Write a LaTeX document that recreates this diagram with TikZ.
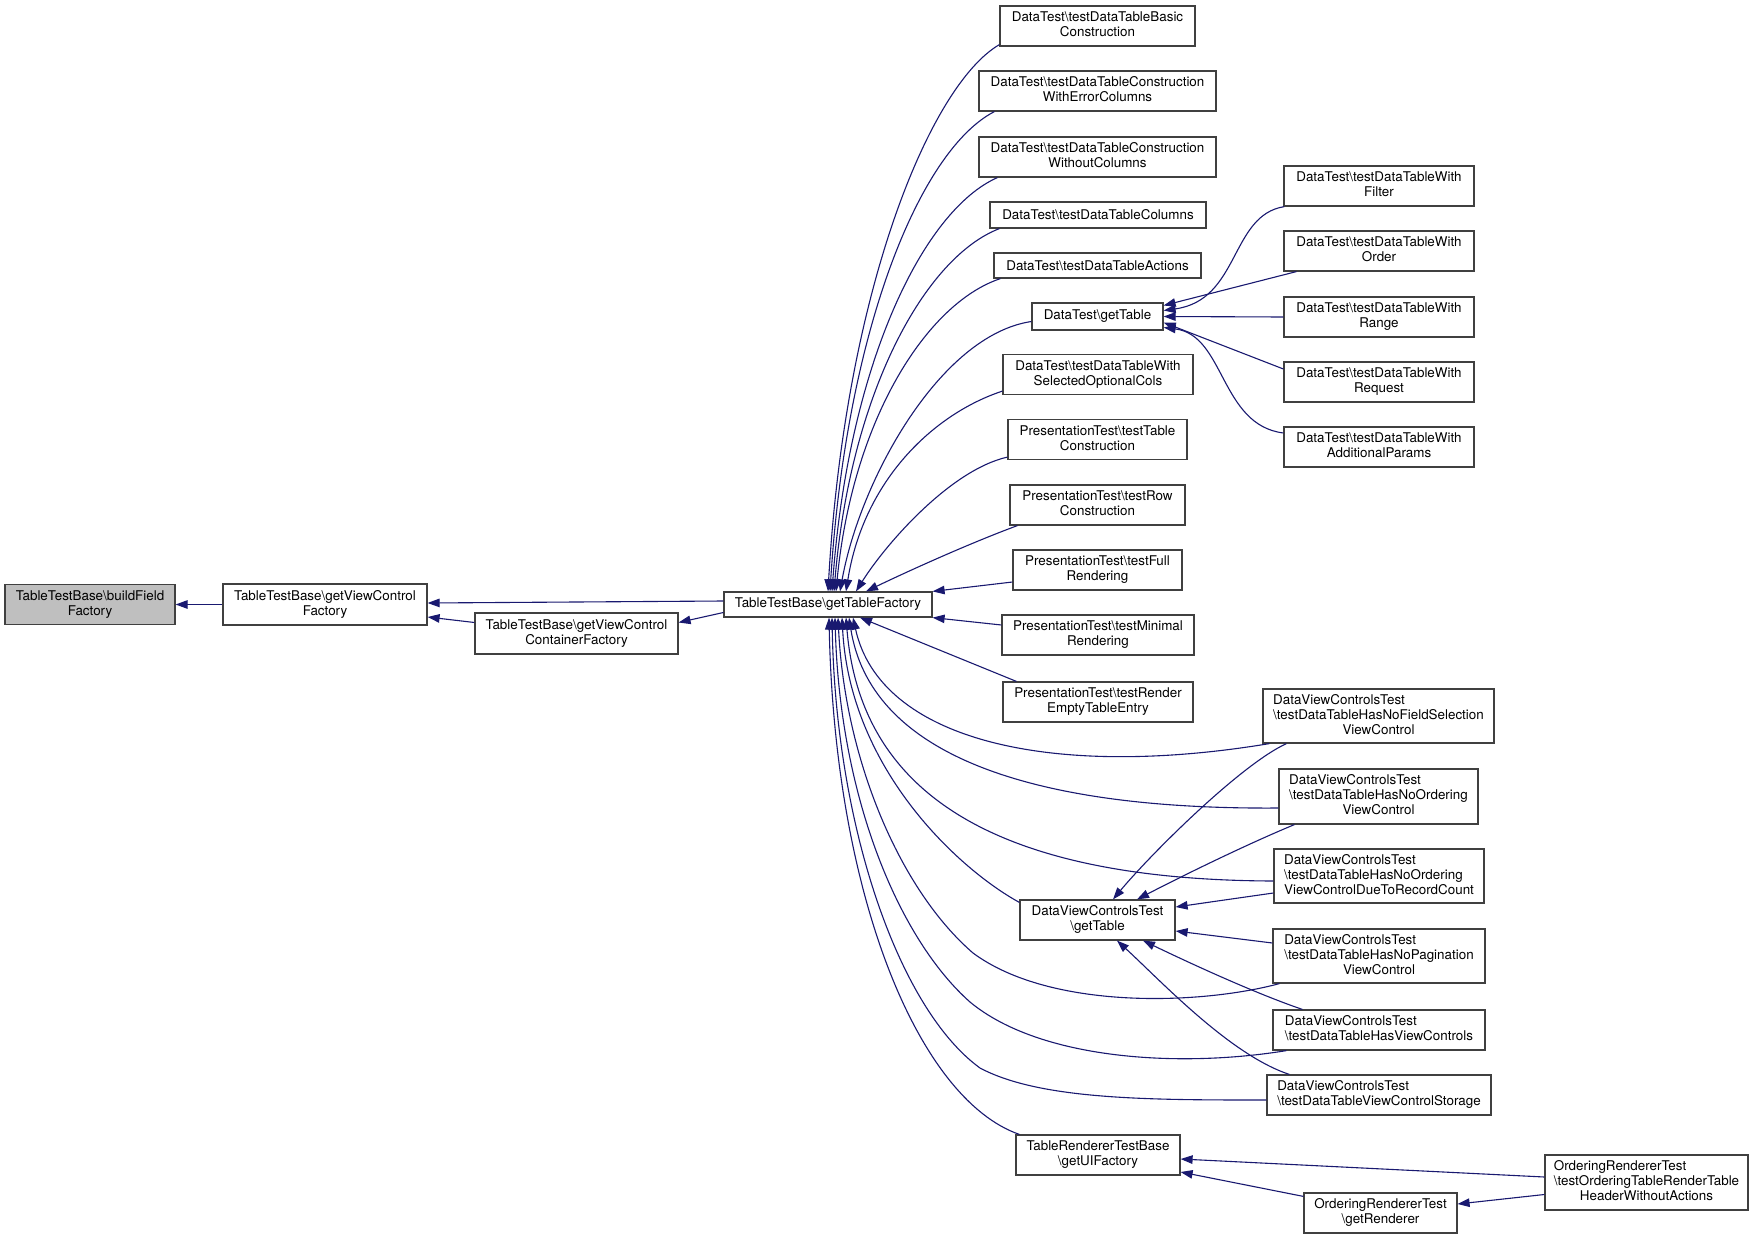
\documentclass[tikz,border=0pt]{standalone}
\usepackage{fontspec}
\setmainfont{TeX Gyre Heros}
\usetikzlibrary{arrows.meta,calc}
\definecolor{edgec}{RGB}{25,25,112}
\definecolor{boxc}{RGB}{64,64,64}
\definecolor{focusc}{RGB}{191,191,191}
\newcommand{\bsl}{\textbackslash}
\newcommand{\lbl}[2]{\begin{tabular}{@{}l@{}}#1\\\multicolumn{1}{@{}c@{}}{#2}\end{tabular}}
\begin{document}
\begin{tikzpicture}[x=1pt,y=-1pt,
  box/.style={draw=boxc, line width=1.2pt, fill=white, inner sep=0pt, align=center,
    font=\fontsize{13.4}{15}\selectfont},
  edge/.style={draw=edgec, line width=1.1pt, {Triangle[length=12pt,width=8.5pt]}-}]
\fill[white] (0,0) rectangle (1751,1239);
\useasboundingbox (0,0) rectangle (1751,1239);

% left chain
\node[box, fill=focusc, minimum width=170pt, minimum height=40pt] (bf) at (90,604.5) {\lbl{TableTestBase\bsl buildField}{Factory}};
\node[box, minimum width=204pt, minimum height=41pt] (gvcf) at (325,604.5) {\lbl{TableTestBase\bsl getViewControl}{Factory}};
\node[box, minimum width=203pt, minimum height=41pt] (gvccf) at (576.5,633.5) {\lbl{TableTestBase\bsl getViewControl}{ContainerFactory}};
\node[box, minimum width=208pt, minimum height=25pt] (gtf) at (828,604.5) {TableTestBase\bsl getTableFactory};

% middle column
\node[box, minimum width=195pt, minimum height=40pt] (basic) at (1097.5,26) {\lbl{DataTest\bsl testDataTableBasic}{Construction}};
\node[box, minimum width=237pt, minimum height=40pt] (err) at (1097.5,91) {\lbl{DataTest\bsl testDataTableConstruction}{WithErrorColumns}};
\node[box, minimum width=237pt, minimum height=40pt] (without) at (1097.5,157) {\lbl{DataTest\bsl testDataTableConstruction}{WithoutColumns}};
\node[box, minimum width=216pt, minimum height=26pt] (cols) at (1098,215) {DataTest\bsl testDataTableColumns};
\node[box, minimum width=207pt, minimum height=25pt] (actions) at (1097.5,265.5) {DataTest\bsl testDataTableActions};
\node[box, minimum width=131pt, minimum height=27pt] (dtgt) at (1097.5,316.5) {DataTest\bsl getTable};
\node[box, minimum width=190pt, minimum height=40pt] (selected) at (1098,374.5) {\lbl{DataTest\bsl testDataTableWith}{SelectedOptionalCols}};
\node[box, minimum width=179pt, minimum height=40pt] (ptable) at (1097.5,439.5) {\lbl{PresentationTest\bsl testTable}{Construction}};
\node[box, minimum width=175pt, minimum height=40pt] (prow) at (1097.5,505) {\lbl{PresentationTest\bsl testRow}{Construction}};
\node[box, minimum width=169pt, minimum height=40pt] (pfull) at (1097.5,570) {\lbl{PresentationTest\bsl testFull}{Rendering}};
\node[box, minimum width=192pt, minimum height=40pt] (pmin) at (1098,635) {\lbl{PresentationTest\bsl testMinimal}{Rendering}};
\node[box, minimum width=190pt, minimum height=40pt] (pempty) at (1098,702) {\lbl{PresentationTest\bsl testRender}{EmptyTableEntry}};
\node[box, minimum width=155pt, minimum height=40pt] (dgt) at (1097.5,920) {\lbl{DataViewControlsTest}{\bsl getTable}};
\node[box, minimum width=164pt, minimum height=40pt] (uif) at (1098,1155) {\lbl{TableRendererTestBase}{\bsl getUIFactory}};

% right column (DataTest)
\node[box, minimum width=190pt, minimum height=40pt] (filter) at (1379,186) {\lbl{DataTest\bsl testDataTableWith}{Filter}};
\node[box, minimum width=190pt, minimum height=40pt] (order) at (1379,251) {\lbl{DataTest\bsl testDataTableWith}{Order}};
\node[box, minimum width=190pt, minimum height=40pt] (range) at (1379,317) {\lbl{DataTest\bsl testDataTableWith}{Range}};
\node[box, minimum width=190pt, minimum height=40pt] (request) at (1379,382) {\lbl{DataTest\bsl testDataTableWith}{Request}};
\node[box, minimum width=190pt, minimum height=40pt] (addl) at (1379,447) {\lbl{DataTest\bsl testDataTableWith}{AdditionalParams}};

% right column (DataViewControlsTest)
\node[box, minimum width=231pt, minimum height=54pt] (dfs) at (1378.5,716) {\lbl{DataViewControlsTest\\\bsl testDataTableHasNoFieldSelection}{ViewControl}};
\node[box, minimum width=199pt, minimum height=55pt] (dno) at (1378.5,796.5) {\lbl{DataViewControlsTest\\\bsl testDataTableHasNoOrdering}{ViewControl}};
\node[box, minimum width=210pt, minimum height=54pt] (drc) at (1379,876) {\lbl{DataViewControlsTest\\\bsl testDataTableHasNoOrdering}{ViewControlDueToRecordCount}};
\node[box, minimum width=212pt, minimum height=54pt] (dpg) at (1379,956) {\lbl{DataViewControlsTest\\\bsl testDataTableHasNoPagination}{ViewControl}};
\node[box, minimum width=212pt, minimum height=40pt] (dhv) at (1379,1030) {\lbl{DataViewControlsTest}{\bsl testDataTableHasViewControls}};
\node[box, minimum width=224pt, minimum height=40pt] (dst) at (1379,1095) {\lbl{DataViewControlsTest}{\bsl testDataTableViewControlStorage}};

% bottom
\node[box, minimum width=153pt, minimum height=40pt] (rend) at (1380.5,1213) {\lbl{OrderingRendererTest}{\bsl getRenderer}};
\node[box, minimum width=203pt, minimum height=55pt] (ortr) at (1646.5,1182.5) {\lbl{OrderingRendererTest\\\bsl testOrderingTableRenderTable}{HeaderWithoutActions}};

% edges: left chain
\draw[edge] (bf.east) -- (gvcf.west);
\draw[edge] ($(gvcf.east)+(0,-1.5)$) -- ($(gtf.west)+(0,-3.5)$);
\draw[edge] ($(gvcf.east)+(0,12.5)$) -- ($(gvccf.west)+(0,-11)$);
\draw[edge] ($(gvccf.east)+(0,-11)$) -- ($(gtf.west)+(0,8)$);

% upper fan
\draw[edge] (gtf.north) .. controls (845,291) and (930,85) .. ($(basic.south west)+(0,-2)$);
\draw[edge] ($(gtf.north)+(2,0)$) .. controls (846.5,327.5) and (920.75,149.5) .. ($(err.south west)+(16,0)$);
\draw[edge] ($(gtf.north)+(4,0)$) .. controls (848.6,363.75) and (923.3,210.2) .. ($(without.south west)+(19,0)$);
\draw[edge] ($(gtf.north)+(6,0)$) .. controls (850.6,391.8) and (925.3,257.1) .. ($(cols.south west)+(10,0)$);
\draw[edge] ($(gtf.north)+(8,0)$) .. controls (852.5,419.3) and (926.75,303.1) .. ($(actions.south west)+(7,0)$);
\draw[edge] ($(gtf.north)+(12,0)$) .. controls (860,480) and (940,335) .. ($(dtgt.west)+(0,5)$);
\draw[edge] ($(gtf.north)+(18,0)$) .. controls (863.5,481) and (933,414) .. ($(selected.south west)+(0,-4)$);
\draw[edge] ($(gtf.north)+(28,0)$) .. controls (885,545) and (950,470) .. ($(ptable.south west)+(0,-3)$);
\draw[edge] ($(gtf.north)+(38,0)$) .. controls (900,575) and (965,545) .. ($(prow.south west)+(8,0)$);
\draw[edge] (gtf.north east) -- ($(pfull.west)+(0,12)$);
\draw[edge] (gtf.south east) -- ($(pmin.west)+(0,-10)$);
\draw[edge] ($(gtf.south)+(32,0)$) -- ($(pempty.north west)+(14,0)$);

% lower fan
\draw[edge] ($(gtf.south)+(25,0)$) .. controls (880,740) and (1050,780) .. ($(dfs.south west)+(7,0)$);
\draw[edge] ($(gtf.south)+(21,0)$) .. controls (870,750) and (1020,810) .. ($(dno.west)+(0,11.5)$);
\draw[edge] ($(gtf.south)+(18,0)$) .. controls (860,790) and (990,880) .. ($(drc.west)+(0,5)$);
\draw[edge] ($(gtf.south)+(14,0)$) .. controls (850,770) and (960,870) .. ($(dgt.north west)+(0,3)$);
\draw[edge] ($(gtf.south)+(10,0)$) .. controls (845,760) and (900,890) .. (973,953)
  .. controls (1050,1010) and (1200,1005) .. ($(dpg.south west)+(7,0)$);
\draw[edge] ($(gtf.south)+(7,0)$) .. controls (840,800) and (900,940) .. (970,1002)
  .. controls (1040,1060) and (1180,1068) .. ($(dhv.south west)+(14,0)$);
\draw[edge] ($(gtf.south)+(4,0)$) .. controls (836,830) and (900,1010) .. (980,1068)
  .. controls (1040,1100) and (1150,1100) .. ($(dst.west)+(0,5)$);
\draw[edge] ($(gtf.south)+(1,0)$) .. controls (835,900) and (920,1100) .. ($(uif.north west)+(4,0)$);

% DataViewControlsTest\getTable callers
\draw[edge] ($(dgt.north)+(15.5,0)$) .. controls (1150,855) and (1240,765) .. ($(dfs.south west)+(24,0)$);
\draw[edge] ($(dgt.north)+(39.5,0)$) .. controls (1190,872) and (1250,843) .. ($(dno.south west)+(16,0)$);
\draw[edge] ($(dgt.east)+(0,-13)$) -- ($(drc.west)+(0,17)$);
\draw[edge] ($(dgt.east)+(0,11)$) -- ($(dpg.west)+(0,-13)$);
\draw[edge] ($(dgt.south)+(45.5,0)$) .. controls (1200,968) and (1260,995) .. ($(dhv.north west)+(30,0)$);
\draw[edge] ($(dgt.south)+(19.5,0)$) .. controls (1160,980) and (1230,1055) .. ($(dst.north west)+(23,0)$);

% DataTest\getTable callers
\draw[edge] ($(dtgt.east)+(0,-6)$) .. controls (1240,300) and (1230,215) .. ($(filter.south west)+(1,0)$);
\draw[edge] ($(dtgt.east)+(0,-11)$) -- ($(order.south west)+(13,0)$);
\draw[edge] (dtgt.east) -- (range.west);
\draw[edge] ($(dtgt.east)+(0,6)$) -- ($(request.west)+(0,-13)$);
\draw[edge] ($(dtgt.east)+(0,11)$) .. controls (1225,335) and (1220,425) .. ($(addl.west)+(0,-14)$);

% renderer
\draw[edge] ($(uif.east)+(0,4)$) -- ($(ortr.west)+(0,-5.5)$);
\draw[edge] ($(uif.east)+(0,17)$) -- ($(rend.north west)+(0,4)$);
\draw[edge] ($(rend.east)+(0,-9)$) -- ($(ortr.west)+(0,12)$);
\end{tikzpicture}
\end{document}
